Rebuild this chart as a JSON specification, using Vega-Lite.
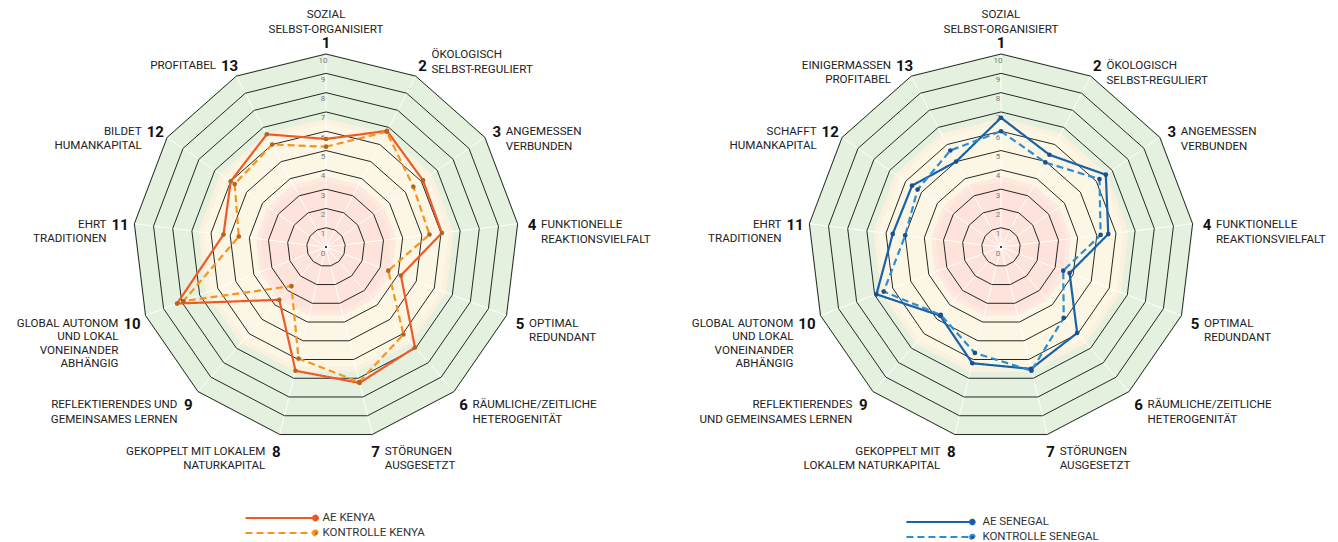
{
  "$schema": "https://vega.github.io/schema/vega-lite/v6.json",
  "padding": 0,
  "spacing": 0,
  "background": "#ffffff",
  "config": {"view": {"stroke": null}, "font": "Roboto"},
  "datasets": {
    "grid": [
      {"ring": 1, "axis": [1,2,3,4,5,6,7,8,9,10,11,12,13]},
      {"ring": 2, "axis": [1,2,3,4,5,6,7,8,9,10,11,12,13]},
      {"ring": 3, "axis": [1,2,3,4,5,6,7,8,9,10,11,12,13]},
      {"ring": 4, "axis": [1,2,3,4,5,6,7,8,9,10,11,12,13]},
      {"ring": 5, "axis": [1,2,3,4,5,6,7,8,9,10,11,12,13]},
      {"ring": 6, "axis": [1,2,3,4,5,6,7,8,9,10,11,12,13]},
      {"ring": 7, "axis": [1,2,3,4,5,6,7,8,9,10,11,12,13]},
      {"ring": 8, "axis": [1,2,3,4,5,6,7,8,9,10,11,12,13]},
      {"ring": 9, "axis": [1,2,3,4,5,6,7,8,9,10,11,12,13]},
      {"ring": 10, "axis": [1,2,3,4,5,6,7,8,9,10,11,12,13]}
    ],
    "bands": [
      {"level": 10, "axis": [1,2,3,4,5,6,7,8,9,10,11,12,13]},
      {"level": 6.6, "axis": [1,2,3,4,5,6,7,8,9,10,11,12,13]},
      {"level": 6.35, "axis": [1,2,3,4,5,6,7,8,9,10,11,12,13]},
      {"level": 3.6, "axis": [1,2,3,4,5,6,7,8,9,10,11,12,13]},
      {"level": 3.35, "axis": [1,2,3,4,5,6,7,8,9,10,11,12,13]}
    ],
    "ringlabels": [
      {"ring": 0}, {"ring": 1}, {"ring": 2}, {"ring": 3}, {"ring": 4}, {"ring": 5},
      {"ring": 6}, {"ring": 7}, {"ring": 8}, {"ring": 9}, {"ring": 10}
    ],
    "kenya": [
      {"axis": 1, "series": "AE KENYA", "value": 5.6},
      {"axis": 2, "series": "AE KENYA", "value": 6.8},
      {"axis": 3, "series": "AE KENYA", "value": 6.1},
      {"axis": 4, "series": "AE KENYA", "value": 6.05},
      {"axis": 5, "series": "AE KENYA", "value": 4.15},
      {"axis": 6, "series": "AE KENYA", "value": 6.95},
      {"axis": 7, "series": "AE KENYA", "value": 7.25},
      {"axis": 8, "series": "AE KENYA", "value": 6.6},
      {"axis": 9, "series": "AE KENYA", "value": 3.65},
      {"axis": 10, "series": "AE KENYA", "value": 8.25},
      {"axis": 11, "series": "AE KENYA", "value": 5.35},
      {"axis": 12, "series": "AE KENYA", "value": 6.0},
      {"axis": 13, "series": "AE KENYA", "value": 6.6},
      {"axis": 1, "series": "KONTROLLE KENYA", "value": 5.2},
      {"axis": 2, "series": "KONTROLLE KENYA", "value": 6.75},
      {"axis": 3, "series": "KONTROLLE KENYA", "value": 5.5},
      {"axis": 4, "series": "KONTROLLE KENYA", "value": 5.4},
      {"axis": 5, "series": "KONTROLLE KENYA", "value": 3.45},
      {"axis": 6, "series": "KONTROLLE KENYA", "value": 6.05},
      {"axis": 7, "series": "KONTROLLE KENYA", "value": 7.2},
      {"axis": 8, "series": "KONTROLLE KENYA", "value": 5.95},
      {"axis": 9, "series": "KONTROLLE KENYA", "value": 2.7},
      {"axis": 10, "series": "KONTROLLE KENYA", "value": 7.9},
      {"axis": 11, "series": "KONTROLLE KENYA", "value": 4.55},
      {"axis": 12, "series": "KONTROLLE KENYA", "value": 5.75},
      {"axis": 13, "series": "KONTROLLE KENYA", "value": 6.0}
    ],
    "senegal": [
      {"axis": 1, "series": "AE SENEGAL", "value": 6.7},
      {"axis": 2, "series": "AE SENEGAL", "value": 5.4},
      {"axis": 3, "series": "AE SENEGAL", "value": 6.6},
      {"axis": 4, "series": "AE SENEGAL", "value": 5.6},
      {"axis": 5, "series": "AE SENEGAL", "value": 3.8},
      {"axis": 6, "series": "AE SENEGAL", "value": 5.95},
      {"axis": 7, "series": "AE SENEGAL", "value": 6.5},
      {"axis": 8, "series": "AE SENEGAL", "value": 6.2},
      {"axis": 9, "series": "AE SENEGAL", "value": 4.75},
      {"axis": 10, "series": "AE SENEGAL", "value": 6.9},
      {"axis": 11, "series": "AE SENEGAL", "value": 5.65},
      {"axis": 12, "series": "AE SENEGAL", "value": 5.6},
      {"axis": 13, "series": "AE SENEGAL", "value": 5.0},
      {"axis": 1, "series": "KONTROLLE SENEGAL", "value": 6.0},
      {"axis": 2, "series": "KONTROLLE SENEGAL", "value": 4.95},
      {"axis": 3, "series": "KONTROLLE SENEGAL", "value": 6.2},
      {"axis": 4, "series": "KONTROLLE SENEGAL", "value": 5.2},
      {"axis": 5, "series": "KONTROLLE SENEGAL", "value": 3.45},
      {"axis": 6, "series": "KONTROLLE SENEGAL", "value": 4.9},
      {"axis": 7, "series": "KONTROLLE SENEGAL", "value": 6.6},
      {"axis": 8, "series": "KONTROLLE SENEGAL", "value": 5.65},
      {"axis": 9, "series": "KONTROLLE SENEGAL", "value": 4.7},
      {"axis": 10, "series": "KONTROLLE SENEGAL", "value": 6.5},
      {"axis": 11, "series": "KONTROLLE SENEGAL", "value": 5.0},
      {"axis": 12, "series": "KONTROLLE SENEGAL", "value": 5.25},
      {"axis": 13, "series": "KONTROLLE SENEGAL", "value": 5.65}
    ],
    "labelsK": [
      {"axis": 1, "num": "1", "desc": ["SOZIAL", "SELBST-ORGANISIERT"]},
      {"axis": 2, "num": "2", "desc": ["ÖKOLOGISCH", "SELBST-REGULIERT"]},
      {"axis": 3, "num": "3", "desc": ["ANGEMESSEN", "VERBUNDEN"]},
      {"axis": 4, "num": "4", "desc": ["FUNKTIONELLE", "REAKTIONSVIELFALT"]},
      {"axis": 5, "num": "5", "desc": ["OPTIMAL", "REDUNDANT"]},
      {"axis": 6, "num": "6", "desc": ["RÄUMLICHE/ZEITLICHE", "HETEROGENITÄT"]},
      {"axis": 7, "num": "7", "desc": ["STÖRUNGEN", "AUSGESETZT"]},
      {"axis": 8, "num": "8", "desc": ["GEKOPPELT MIT LOKALEM", "NATURKAPITAL"]},
      {"axis": 9, "num": "9", "desc": ["REFLEKTIERENDES UND", "GEMEINSAMES LERNEN"]},
      {"axis": 10, "num": "10", "desc": ["GLOBAL AUTONOM", "UND LOKAL", "VONEINANDER", "ABHÄNGIG"]},
      {"axis": 11, "num": "11", "desc": ["EHRT", "TRADITIONEN"]},
      {"axis": 12, "num": "12", "desc": ["BILDET", "HUMANKAPITAL"]},
      {"axis": 13, "num": "13", "desc": ["PROFITABEL"]}
    ],
    "labelsS": [
      {"axis": 1, "num": "1", "desc": ["SOZIAL", "SELBST-ORGANISIERT"]},
      {"axis": 2, "num": "2", "desc": ["ÖKOLOGISCH", "SELBST-REGULIERT"]},
      {"axis": 3, "num": "3", "desc": ["ANGEMESSEN", "VERBUNDEN"]},
      {"axis": 4, "num": "4", "desc": ["FUNKTIONELLE", "REAKTIONSVIELFALT"]},
      {"axis": 5, "num": "5", "desc": ["OPTIMAL", "REDUNDANT"]},
      {"axis": 6, "num": "6", "desc": ["RÄUMLICHE/ZEITLICHE", "HETEROGENITÄT"]},
      {"axis": 7, "num": "7", "desc": ["STÖRUNGEN", "AUSGESETZT"]},
      {"axis": 8, "num": "8", "desc": ["GEKOPPELT MIT", "LOKALEM NATURKAPITAL"]},
      {"axis": 9, "num": "9", "desc": ["REFLEKTIERENDES", "UND GEMEINSAMES LERNEN"]},
      {"axis": 10, "num": "10", "desc": ["GLOBAL AUTONOM", "UND LOKAL", "VONEINANDER", "ABHÄNGIG"]},
      {"axis": 11, "num": "11", "desc": ["EHRT", "TRADITIONEN"]},
      {"axis": 12, "num": "12", "desc": ["SCHAFFT", "HUMANKAPITAL"]},
      {"axis": 13, "num": "13", "desc": ["EINIGERMASSEN", "PROFITABEL"]}
    ]
  },
  "resolve": {
    "scale": {"x": "independent", "y": "independent", "color": "independent", "strokeDash": "independent"},
    "legend": {"color": "independent", "strokeDash": "independent"}
  },
  "hconcat": [
    {
      "width": 669,
      "height": 542,
      "encoding": {
        "x": {"field": "x", "type": "quantitative", "scale": {"domain": [-16.89, 17.77], "nice": false, "zero": false}, "axis": null},
        "y": {"field": "y", "type": "quantitative", "scale": {"domain": [-15.28, 12.8], "nice": false, "zero": false}, "axis": null}
      },
      "layer": [
        {"data": {"name": "bands"}, "transform": [{"filter": "datum.level == 10"}, {"flatten": ["axis"]}, {"calculate": "(datum.axis-1)*2*PI/13", "as": "t"}, {"calculate": "datum.level*sin(datum.t)", "as": "x"}, {"calculate": "datum.level*cos(datum.t)", "as": "y"}],
          "mark": {"type": "line", "interpolate": "linear-closed", "color": "#e4f1df", "fill": "#e4f1df"}, "encoding": {"order": {"field": "axis", "type": "quantitative"}}},
        {"data": {"name": "bands"}, "transform": [{"filter": "datum.level == 6.6"}, {"flatten": ["axis"]}, {"calculate": "(datum.axis-1)*2*PI/13", "as": "t"}, {"calculate": "datum.level*sin(datum.t)", "as": "x"}, {"calculate": "datum.level*cos(datum.t)", "as": "y"}],
          "mark": {"type": "line", "interpolate": "linear-closed", "color": "#fbf1de", "fill": "#fbf1de"}, "encoding": {"order": {"field": "axis", "type": "quantitative"}}},
        {"data": {"name": "bands"}, "transform": [{"filter": "datum.level == 6.35"}, {"flatten": ["axis"]}, {"calculate": "(datum.axis-1)*2*PI/13", "as": "t"}, {"calculate": "datum.level*sin(datum.t)", "as": "x"}, {"calculate": "datum.level*cos(datum.t)", "as": "y"}],
          "mark": {"type": "line", "interpolate": "linear-closed", "color": "#fcf6e5", "fill": "#fcf6e5"}, "encoding": {"order": {"field": "axis", "type": "quantitative"}}},
        {"data": {"name": "bands"}, "transform": [{"filter": "datum.level == 3.6"}, {"flatten": ["axis"]}, {"calculate": "(datum.axis-1)*2*PI/13", "as": "t"}, {"calculate": "datum.level*sin(datum.t)", "as": "x"}, {"calculate": "datum.level*cos(datum.t)", "as": "y"}],
          "mark": {"type": "line", "interpolate": "linear-closed", "color": "#fde9df", "fill": "#fde9df"}, "encoding": {"order": {"field": "axis", "type": "quantitative"}}},
        {"data": {"name": "bands"}, "transform": [{"filter": "datum.level == 3.35"}, {"flatten": ["axis"]}, {"calculate": "(datum.axis-1)*2*PI/13", "as": "t"}, {"calculate": "datum.level*sin(datum.t)", "as": "x"}, {"calculate": "datum.level*cos(datum.t)", "as": "y"}],
          "mark": {"type": "line", "interpolate": "linear-closed", "color": "#fde3d9", "fill": "#fde3d9"}, "encoding": {"order": {"field": "axis", "type": "quantitative"}}},
        {"data": {"name": "labelsK"}, "transform": [{"calculate": "(datum.axis-1)*2*PI/13", "as": "t"}, {"calculate": "10*sin(datum.t)", "as": "x"}, {"calculate": "10*cos(datum.t)", "as": "y"}],
          "mark": {"type": "rule", "color": "#ffffff", "strokeWidth": 1}, "encoding": {"x2": {"datum": 0}, "y2": {"datum": 0}}},
        {"data": {"name": "grid"}, "transform": [{"flatten": ["axis"]}, {"calculate": "(datum.axis-1)*2*PI/13", "as": "t"}, {"calculate": "datum.ring*sin(datum.t)", "as": "x"}, {"calculate": "datum.ring*cos(datum.t)", "as": "y"}],
          "mark": {"type": "line", "interpolate": "linear-closed", "color": "#111111", "strokeWidth": 0.9},
          "encoding": {"detail": {"field": "ring", "type": "nominal"}, "order": {"field": "axis", "type": "quantitative"}}},
        {"data": {"name": "ringlabels"}, "transform": [{"calculate": "0", "as": "x"}, {"calculate": "datum.ring", "as": "y"}],
          "mark": {"type": "text", "fontSize": 8, "color": "#777777", "dx": -3, "dy": 6.5, "align": "center", "baseline": "middle"},
          "encoding": {"text": {"field": "ring", "type": "quantitative"}}},
        {"data": {"name": "ringlabels"}, "transform": [{"filter": "datum.ring == 0"}, {"calculate": "0", "as": "x"}, {"calculate": "0", "as": "y"}],
          "mark": {"type": "circle", "size": 4, "color": "#000000", "opacity": 1}, "encoding": {}},
        {"data": {"name": "kenya"}, "transform": [{"calculate": "(datum.axis-1)*2*PI/13", "as": "t"}, {"calculate": "datum.value*sin(datum.t)", "as": "x"}, {"calculate": "datum.value*cos(datum.t)", "as": "y"}],
          "mark": {"type": "line", "interpolate": "linear-closed", "strokeWidth": 2.2},
          "encoding": {
            "color": {"field": "series", "type": "nominal", "scale": {"domain": ["AE KENYA", "KONTROLLE KENYA"], "range": ["#f05a28", "#f7941d"]},
              "legend": {"orient": "none", "legendX": 272.5, "legendY": 510, "title": null, "symbolType": "M-5,0L5,0M4.65,0A0.35,0.35 0 1,1 5.35,0A0.35,0.35 0 1,1 4.65,0", "symbolSize": 196, "symbolStrokeWidth": 2, "symbolFillColor": "#b5651d", "labelFontSize": 11.5, "labelOffset": 34, "rowPadding": 0, "labelFont": "Roboto", "labelColor": "#333333", "padding": 0}},
            "strokeDash": {"field": "series", "type": "nominal", "scale": {"domain": ["AE KENYA", "KONTROLLE KENYA"], "range": [[1, 0], [7, 4]]},
              "legend": {"orient": "none", "legendX": 272.5, "legendY": 510, "title": null, "symbolType": "M-5,0L5,0M4.65,0A0.35,0.35 0 1,1 5.35,0A0.35,0.35 0 1,1 4.65,0", "symbolSize": 196, "symbolStrokeWidth": 2, "symbolFillColor": "#b5651d", "labelFontSize": 11.5, "labelOffset": 34, "rowPadding": 0, "labelFont": "Roboto", "labelColor": "#333333", "padding": 0}},
            "order": {"field": "axis", "type": "quantitative"}
          }},
        {"data": {"name": "kenya"}, "transform": [{"calculate": "(datum.axis-1)*2*PI/13", "as": "t"}, {"calculate": "datum.value*sin(datum.t)", "as": "x"}, {"calculate": "datum.value*cos(datum.t)", "as": "y"}],
          "mark": {"type": "circle", "size": 22, "color": "#b5651d", "opacity": 1}, "encoding": {}},
        {"data": {"name": "labelsK"}, "transform": [{"calculate": "(datum.axis-1)*2*PI/13", "as": "t"}, {"calculate": "10.75*sin(datum.t)", "as": "x"}, {"calculate": "10.75*cos(datum.t)", "as": "y"}],
          "mark": {"type": "text", "fontSize": 15, "fontWeight": "bold", "align": "center", "baseline": "middle", "dy": 3, "color": "#111111"},
          "encoding": {"text": {"field": "num", "type": "nominal"}}},
        {"data": {"name": "labelsK"}, "transform": [{"filter": "datum.axis == 1"}, {"calculate": "(datum.axis-1)*2*PI/13", "as": "t"}, {"calculate": "10.75*sin(datum.t)", "as": "x"}, {"calculate": "10.75*cos(datum.t)", "as": "y"}],
          "mark": {"type": "text", "fontSize": 11.6, "align": "center", "baseline": "bottom", "dy": -20, "lineHeight": 15, "color": "#222222"},
          "encoding": {"text": {"field": "desc", "type": "nominal"}}},
        {"data": {"name": "labelsK"}, "transform": [{"filter": "datum.axis == 2"}, {"calculate": "(datum.axis-1)*2*PI/13", "as": "t"}, {"calculate": "10.75*sin(datum.t)", "as": "x"}, {"calculate": "10.75*cos(datum.t)", "as": "y"}],
          "mark": {"type": "text", "fontSize": 11.6, "align": "left", "baseline": "bottom", "dx": 9, "dy": -3, "lineHeight": 15, "color": "#222222"},
          "encoding": {"text": {"field": "desc", "type": "nominal"}}},
        {"data": {"name": "labelsK"}, "transform": [{"filter": "datum.axis >= 3 && datum.axis <= 7"}, {"calculate": "(datum.axis-1)*2*PI/13", "as": "t"}, {"calculate": "10.75*sin(datum.t)", "as": "x"}, {"calculate": "10.75*cos(datum.t)", "as": "y"}],
          "mark": {"type": "text", "fontSize": 11.6, "align": "left", "baseline": "top", "dx": 9, "dy": -3, "lineHeight": 14.5, "color": "#222222"},
          "encoding": {"text": {"field": "desc", "type": "nominal"}}},
        {"data": {"name": "labelsK"}, "transform": [{"filter": "datum.axis == 8 || datum.axis == 9"}, {"calculate": "(datum.axis-1)*2*PI/13", "as": "t"}, {"calculate": "10.75*sin(datum.t)", "as": "x"}, {"calculate": "10.75*cos(datum.t)", "as": "y"}],
          "mark": {"type": "text", "fontSize": 11.6, "align": "right", "baseline": "top", "dx": -11, "dy": -3, "lineHeight": 14.5, "color": "#222222"},
          "encoding": {"text": {"field": "desc", "type": "nominal"}}},
        {"data": {"name": "labelsK"}, "transform": [{"filter": "datum.axis >= 10"}, {"calculate": "(datum.axis-1)*2*PI/13", "as": "t"}, {"calculate": "10.75*sin(datum.t)", "as": "x"}, {"calculate": "10.75*cos(datum.t)", "as": "y"}],
          "mark": {"type": "text", "fontSize": 11.6, "align": "right", "baseline": "top", "dx": -13.5, "dy": -3, "lineHeight": 13.5, "color": "#222222"},
          "encoding": {"text": {"field": "desc", "type": "nominal"}}}
      ]
    },
    {
      "width": 669,
      "height": 542,
      "encoding": {
        "x": {"field": "x", "type": "quantitative", "scale": {"domain": [-17.2, 17.46], "nice": false, "zero": false}, "axis": null},
        "y": {"field": "y", "type": "quantitative", "scale": {"domain": [-15.28, 12.8], "nice": false, "zero": false}, "axis": null}
      },
      "layer": [
        {"data": {"name": "bands"}, "transform": [{"filter": "datum.level == 10"}, {"flatten": ["axis"]}, {"calculate": "(datum.axis-1)*2*PI/13", "as": "t"}, {"calculate": "datum.level*sin(datum.t)", "as": "x"}, {"calculate": "datum.level*cos(datum.t)", "as": "y"}],
          "mark": {"type": "line", "interpolate": "linear-closed", "color": "#e4f1df", "fill": "#e4f1df"}, "encoding": {"order": {"field": "axis", "type": "quantitative"}}},
        {"data": {"name": "bands"}, "transform": [{"filter": "datum.level == 6.6"}, {"flatten": ["axis"]}, {"calculate": "(datum.axis-1)*2*PI/13", "as": "t"}, {"calculate": "datum.level*sin(datum.t)", "as": "x"}, {"calculate": "datum.level*cos(datum.t)", "as": "y"}],
          "mark": {"type": "line", "interpolate": "linear-closed", "color": "#fbf1de", "fill": "#fbf1de"}, "encoding": {"order": {"field": "axis", "type": "quantitative"}}},
        {"data": {"name": "bands"}, "transform": [{"filter": "datum.level == 6.35"}, {"flatten": ["axis"]}, {"calculate": "(datum.axis-1)*2*PI/13", "as": "t"}, {"calculate": "datum.level*sin(datum.t)", "as": "x"}, {"calculate": "datum.level*cos(datum.t)", "as": "y"}],
          "mark": {"type": "line", "interpolate": "linear-closed", "color": "#fcf6e5", "fill": "#fcf6e5"}, "encoding": {"order": {"field": "axis", "type": "quantitative"}}},
        {"data": {"name": "bands"}, "transform": [{"filter": "datum.level == 3.6"}, {"flatten": ["axis"]}, {"calculate": "(datum.axis-1)*2*PI/13", "as": "t"}, {"calculate": "datum.level*sin(datum.t)", "as": "x"}, {"calculate": "datum.level*cos(datum.t)", "as": "y"}],
          "mark": {"type": "line", "interpolate": "linear-closed", "color": "#fde9df", "fill": "#fde9df"}, "encoding": {"order": {"field": "axis", "type": "quantitative"}}},
        {"data": {"name": "bands"}, "transform": [{"filter": "datum.level == 3.35"}, {"flatten": ["axis"]}, {"calculate": "(datum.axis-1)*2*PI/13", "as": "t"}, {"calculate": "datum.level*sin(datum.t)", "as": "x"}, {"calculate": "datum.level*cos(datum.t)", "as": "y"}],
          "mark": {"type": "line", "interpolate": "linear-closed", "color": "#fde3d9", "fill": "#fde3d9"}, "encoding": {"order": {"field": "axis", "type": "quantitative"}}},
        {"data": {"name": "labelsS"}, "transform": [{"calculate": "(datum.axis-1)*2*PI/13", "as": "t"}, {"calculate": "10*sin(datum.t)", "as": "x"}, {"calculate": "10*cos(datum.t)", "as": "y"}],
          "mark": {"type": "rule", "color": "#ffffff", "strokeWidth": 1}, "encoding": {"x2": {"datum": 0}, "y2": {"datum": 0}}},
        {"data": {"name": "grid"}, "transform": [{"flatten": ["axis"]}, {"calculate": "(datum.axis-1)*2*PI/13", "as": "t"}, {"calculate": "datum.ring*sin(datum.t)", "as": "x"}, {"calculate": "datum.ring*cos(datum.t)", "as": "y"}],
          "mark": {"type": "line", "interpolate": "linear-closed", "color": "#111111", "strokeWidth": 0.9},
          "encoding": {"detail": {"field": "ring", "type": "nominal"}, "order": {"field": "axis", "type": "quantitative"}}},
        {"data": {"name": "ringlabels"}, "transform": [{"calculate": "0", "as": "x"}, {"calculate": "datum.ring", "as": "y"}],
          "mark": {"type": "text", "fontSize": 8, "color": "#777777", "dx": -3, "dy": 6.5, "align": "center", "baseline": "middle"},
          "encoding": {"text": {"field": "ring", "type": "quantitative"}}},
        {"data": {"name": "ringlabels"}, "transform": [{"filter": "datum.ring == 0"}, {"calculate": "0", "as": "x"}, {"calculate": "0", "as": "y"}],
          "mark": {"type": "circle", "size": 4, "color": "#000000", "opacity": 1}, "encoding": {}},
        {"data": {"name": "senegal"}, "transform": [{"calculate": "(datum.axis-1)*2*PI/13", "as": "t"}, {"calculate": "datum.value*sin(datum.t)", "as": "x"}, {"calculate": "datum.value*cos(datum.t)", "as": "y"}],
          "mark": {"type": "line", "interpolate": "linear-closed", "strokeWidth": 2.2},
          "encoding": {
            "color": {"field": "series", "type": "nominal", "scale": {"domain": ["AE SENEGAL", "KONTROLLE SENEGAL"], "range": ["#1862a9", "#2b8ed1"]},
              "legend": {"orient": "none", "legendX": 262.4, "legendY": 514, "title": null, "symbolType": "M-5,0L5,0M4.65,0A0.35,0.35 0 1,1 5.35,0A0.35,0.35 0 1,1 4.65,0", "symbolSize": 174, "symbolStrokeWidth": 2, "symbolFillColor": "#1f4e8c", "labelFontSize": 11.5, "labelOffset": 35, "rowPadding": 0, "labelFont": "Roboto", "labelColor": "#333333", "padding": 0}},
            "strokeDash": {"field": "series", "type": "nominal", "scale": {"domain": ["AE SENEGAL", "KONTROLLE SENEGAL"], "range": [[1, 0], [7, 4]]},
              "legend": {"orient": "none", "legendX": 262.4, "legendY": 514, "title": null, "symbolType": "M-5,0L5,0M4.65,0A0.35,0.35 0 1,1 5.35,0A0.35,0.35 0 1,1 4.65,0", "symbolSize": 174, "symbolStrokeWidth": 2, "symbolFillColor": "#1f4e8c", "labelFontSize": 11.5, "labelOffset": 35, "rowPadding": 0, "labelFont": "Roboto", "labelColor": "#333333", "padding": 0}},
            "order": {"field": "axis", "type": "quantitative"}
          }},
        {"data": {"name": "senegal"}, "transform": [{"calculate": "(datum.axis-1)*2*PI/13", "as": "t"}, {"calculate": "datum.value*sin(datum.t)", "as": "x"}, {"calculate": "datum.value*cos(datum.t)", "as": "y"}],
          "mark": {"type": "circle", "size": 22, "color": "#1f4e8c", "opacity": 1}, "encoding": {}},
        {"data": {"name": "labelsS"}, "transform": [{"calculate": "(datum.axis-1)*2*PI/13", "as": "t"}, {"calculate": "10.75*sin(datum.t)", "as": "x"}, {"calculate": "10.75*cos(datum.t)", "as": "y"}],
          "mark": {"type": "text", "fontSize": 15, "fontWeight": "bold", "align": "center", "baseline": "middle", "dy": 3, "color": "#111111"},
          "encoding": {"text": {"field": "num", "type": "nominal"}}},
        {"data": {"name": "labelsS"}, "transform": [{"filter": "datum.axis == 1"}, {"calculate": "(datum.axis-1)*2*PI/13", "as": "t"}, {"calculate": "10.75*sin(datum.t)", "as": "x"}, {"calculate": "10.75*cos(datum.t)", "as": "y"}],
          "mark": {"type": "text", "fontSize": 11.6, "align": "center", "baseline": "bottom", "dy": -20, "lineHeight": 15, "color": "#222222"},
          "encoding": {"text": {"field": "desc", "type": "nominal"}}},
        {"data": {"name": "labelsS"}, "transform": [{"filter": "datum.axis >= 2 && datum.axis <= 7"}, {"calculate": "(datum.axis-1)*2*PI/13", "as": "t"}, {"calculate": "10.75*sin(datum.t)", "as": "x"}, {"calculate": "10.75*cos(datum.t)", "as": "y"}],
          "mark": {"type": "text", "fontSize": 11.6, "align": "left", "baseline": "top", "dx": 9, "dy": -3, "lineHeight": 14.5, "color": "#222222"},
          "encoding": {"text": {"field": "desc", "type": "nominal"}}},
        {"data": {"name": "labelsS"}, "transform": [{"filter": "datum.axis == 8 || datum.axis == 9"}, {"calculate": "(datum.axis-1)*2*PI/13", "as": "t"}, {"calculate": "10.75*sin(datum.t)", "as": "x"}, {"calculate": "10.75*cos(datum.t)", "as": "y"}],
          "mark": {"type": "text", "fontSize": 11.6, "align": "right", "baseline": "top", "dx": -11, "dy": -3, "lineHeight": 14.5, "color": "#222222"},
          "encoding": {"text": {"field": "desc", "type": "nominal"}}},
        {"data": {"name": "labelsS"}, "transform": [{"filter": "datum.axis >= 10"}, {"calculate": "(datum.axis-1)*2*PI/13", "as": "t"}, {"calculate": "10.75*sin(datum.t)", "as": "x"}, {"calculate": "10.75*cos(datum.t)", "as": "y"}],
          "mark": {"type": "text", "fontSize": 11.6, "align": "right", "baseline": "top", "dx": -13.5, "dy": -3, "lineHeight": 13.5, "color": "#222222"},
          "encoding": {"text": {"field": "desc", "type": "nominal"}}}
      ]
    }
  ]
}
